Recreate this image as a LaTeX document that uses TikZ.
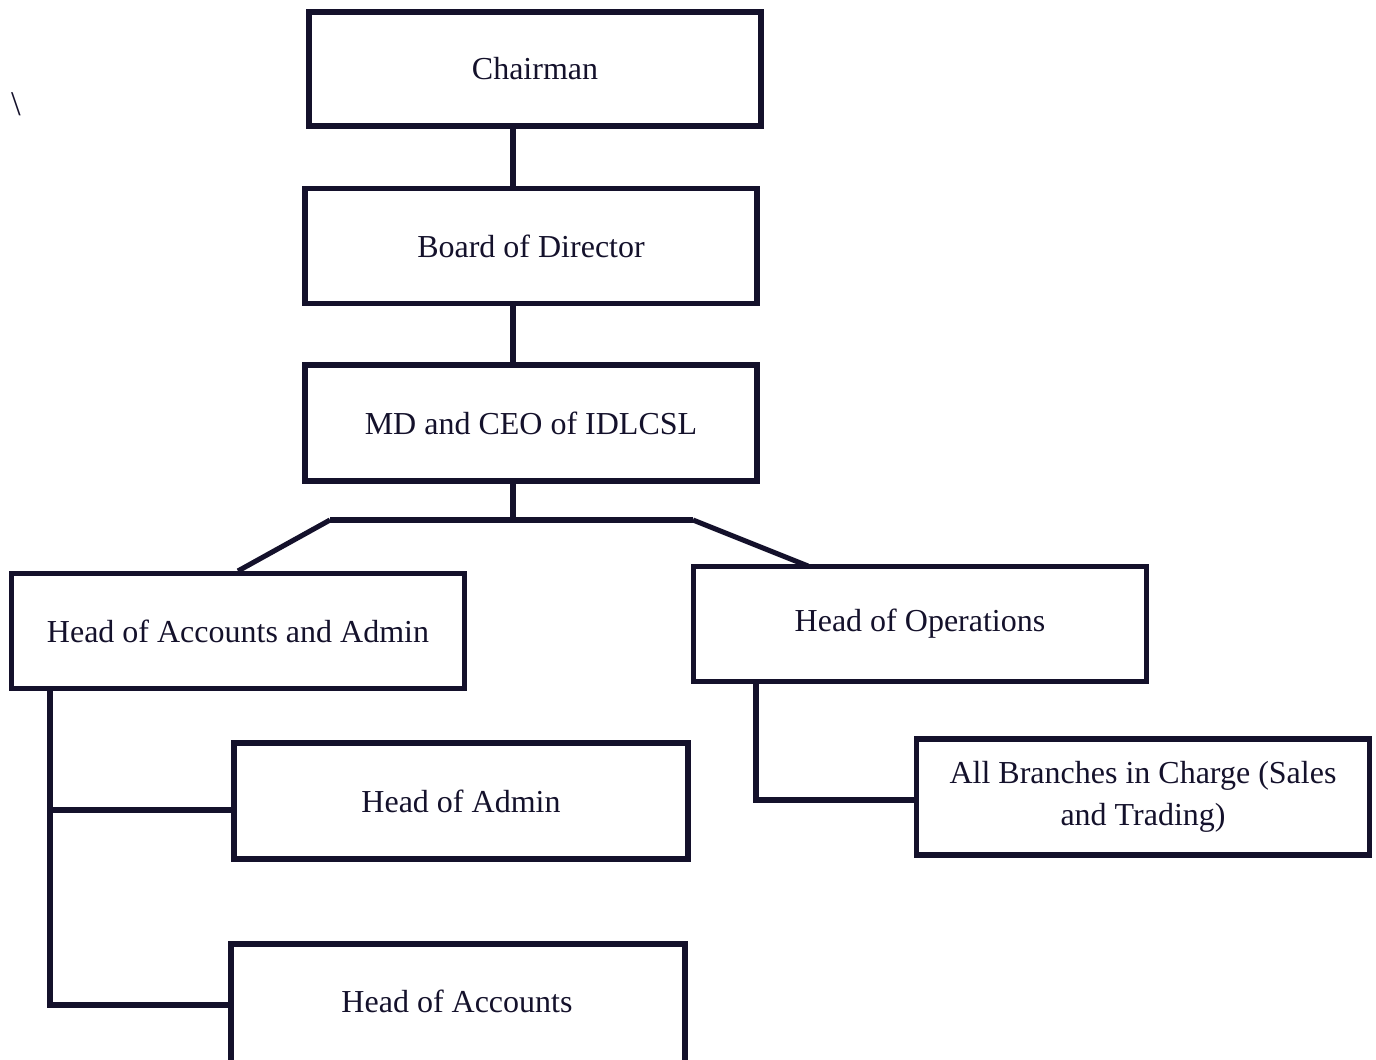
\documentclass[tikz,border=0pt]{standalone}
\usepackage{fontspec}
\setmainfont{Liberation Serif}
\definecolor{ink}{HTML}{14112B}
\begin{document}
\begin{tikzpicture}[x=0.75pt,y=-0.75pt,
  box/.style={draw=ink,line width=3.8pt,rectangle,inner sep=0pt,text=ink,font=\fontsize{24}{30}\selectfont,align=center},
  conn/.style={draw=ink,line width=3.8pt}]
\useasboundingbox (0,0) rectangle (1376,1059);
\clip (0,0) rectangle (1376,1059);
\node[box,minimum width=339pt,minimum height=85.5pt] (chair) at (535,69) {Chairman};
\node[box,minimum width=339pt,minimum height=86.25pt] (board) at (531,246) {Board of Director};
\node[box,minimum width=339pt,minimum height=87pt] (md) at (531,423) {MD and CEO of IDLCSL};
\node[box,minimum width=339.75pt,minimum height=86.25pt] (hacc) at (238,631) {Head of Accounts and Admin};
\node[box,minimum width=339.75pt,minimum height=86.25pt] (hops) at (920,624) {Head of Operations};
\node[box,minimum width=340.5pt,minimum height=87pt] (hadm) at (461,801) {Head of Admin};
\node[box,minimum width=339.75pt,minimum height=87pt,font=\fontsize{24}{31}\selectfont] (allb) at (1143,797) {All Branches in Charge (Sales\\and Trading)};
\node[box,minimum width=340.5pt,minimum height=93pt] (hact) at (458,1006) {};
\node[text=ink,font=\fontsize{24}{30}\selectfont] (hacttxt) at (457,1001) {Head of Accounts};
\node[text=ink,font=\fontsize{26}{30}\selectfont] (bs) at (16,104) {\textbackslash};
\coordinate (j) at (513,520);
\coordinate (jl) at (330,520);
\coordinate (jr) at (693,520);
\coordinate (la) at (50,686);
\coordinate (lb) at (50,810);
\coordinate (lc) at (50,1005);
\coordinate (ra) at (756,683);
\coordinate (rb) at (756,800);
\draw[conn] (chair.south -| j) -- (board.north -| j);
\draw[conn] (board.south -| j) -- (md.north -| j);
\draw[conn] (md.south -| j) -- (j);
\draw[conn] (jl) -- (jr);
\draw[conn] (jl) -- (hacc.north);
\draw[conn] (jr) -- (808,566);
\draw[conn] (la) -- (lc) -- (hact.west |- lc);
\draw[conn] (lb) -- (hadm.west |- lb);
\draw[conn] (ra) -- (rb) -- (allb.west |- rb);
\end{tikzpicture}
\end{document}
